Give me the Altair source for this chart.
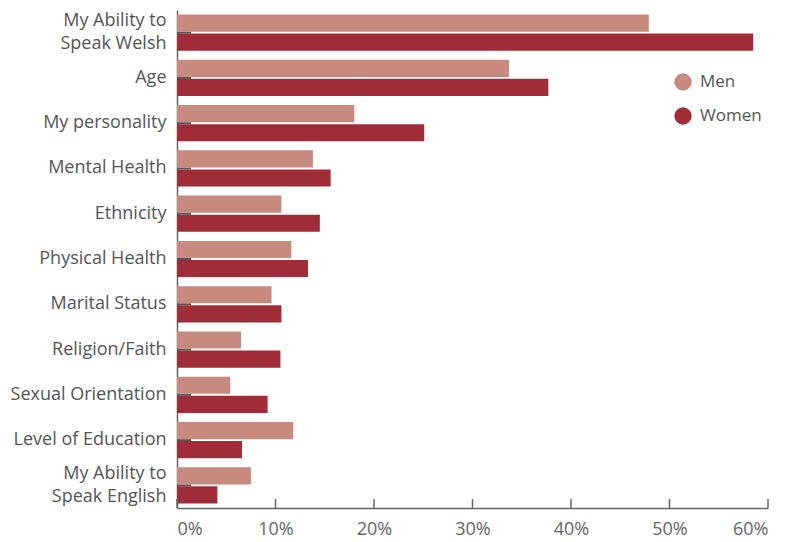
import altair as alt
import pandas as pd

categories = ["My Ability to|Speak Welsh", "Age", "My personality", "Mental Health",
              "Ethnicity", "Physical Health", "Marital Status", "Religion/Faith",
              "Sexual Orientation", "Level of Education", "My Ability to|Speak English"]
men = [47.9, 33.7, 18.0, 13.8, 10.6, 11.6, 9.6, 6.5, 5.4, 11.8, 7.5]
women = [58.5, 37.7, 25.1, 15.6, 14.5, 13.3, 10.6, 10.5, 9.2, 6.6, 4.1]
groups = ["Men", "Women"]
colors = ["#c8897f", "#a02c37"]
x_ticks = [0, 10, 20, 30, 40, 50, 60]

rows = []
for c, m, w in zip(categories, men, women):
    rows.append({"cat": c, "group": "Men", "value": m})
    rows.append({"cat": c, "group": "Women", "value": w})
df = pd.DataFrame(rows)
ticks_df = pd.DataFrame({"t": x_ticks})
cats_df = pd.DataFrame({"cat": categories})

FONT = "Open Sans"
W, H = 591, 498

yscale = alt.Scale(domain=categories, paddingInner=0.2, paddingOuter=0.1)
xscale = alt.Scale(domain=[0, 60], nice=False)

bars = alt.Chart(df).mark_bar().encode(
    y=alt.Y("cat:N", sort=categories, scale=yscale, title=None,
            axis=alt.Axis(labelExpr="split(datum.label, '|')", labelFontSize=18,
                          labelColor="#555555", labelFont=FONT, ticks=False,
                          labelPadding=11, domainColor="#666666", domainWidth=1.5,
                          labelLineHeight=23, labelBaseline="middle",
                          labelOffset={"condition": {"test": "indexof(datum.value, '|') >= 0",
                                                     "value": -11.5}, "value": 0})),
    yOffset=alt.YOffset("group:N", sort=groups, scale=alt.Scale(paddingInner=0.1)),
    x=alt.X("value:Q", scale=xscale, title=None,
            axis=alt.Axis(values=x_ticks, labelExpr="datum.value + '%'", ticks=False,
                          grid=False, labelFontSize=18, labelColor="#666666",
                          labelFont=FONT, labelPadding=12, domainColor="#666666",
                          domainWidth=1.5)),
    color=alt.Color("group:N", sort=groups,
                    scale=alt.Scale(domain=groups, range=colors),
                    legend=alt.Legend(title=None, orient="none", legendX=497, legendY=63,
                                      symbolType="circle", symbolSize=300,
                                      symbolStrokeWidth=0, labelFontSize=17,
                                      labelColor="#555555", labelFont=FONT,
                                      rowPadding=16, labelOffset=8)),
)

ytick = alt.Chart(cats_df).mark_rule(color="#555555", strokeWidth=2).encode(
    y=alt.Y("cat:N", sort=categories, scale=yscale, bandPosition=0.5),
    x=alt.value(0), x2=alt.value(14),
)

xtick = alt.Chart(ticks_df).mark_rule(color="#666666", strokeWidth=1.5).encode(
    x=alt.X("t:Q", scale=xscale),
    y=alt.value(H - 9), y2=alt.value(H),
)

chart = alt.layer(ytick, bars, xtick).properties(
    width=W, height=H, padding={"left": 2, "top": 2, "right": 0, "bottom": 2}
).configure_view(stroke=None)

chart.save("out.html", embed_options={"renderer": "svg", "actions": False})
